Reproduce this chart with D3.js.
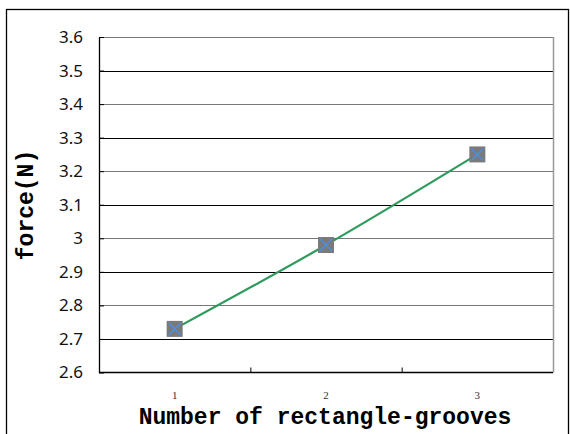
<!DOCTYPE html>
<html><head><meta charset="utf-8">
<script src="https://cdn.jsdelivr.net/npm/d3@7"></script>
<style>body{margin:0;background:#fff}</style>
</head><body><svg id="c" width="570" height="434"></svg>
<script>
const categories = ["1","2","3"];
const forceValues = [2.73, 2.98, 3.25];
const yTicks = [2.6,2.7,2.8,2.9,3.0,3.1,3.2,3.3,3.4,3.5,3.6];
const yTickLabels = ["2.6","2.7","2.8","2.9","3","3.1","3.2","3.3","3.4","3.5","3.6"];
const xTitle = "Number of rectangle-grooves";
const yTitle = "force(N)";

const svg = d3.select("#c");
const L=99, R=553, T=37, B=372.5;
svg.append("rect").attr("x",6.5).attr("y",9.5).attr("width",562).attr("height",440)
  .attr("fill","none").attr("stroke","#000").attr("stroke-width",1.3);

const x = d3.scaleBand().domain(categories).range([L,R]);
const y = d3.scaleLinear().domain([2.6,3.6]).range([B,T]);

// gridlines
svg.append("g").selectAll("line").data(yTicks.slice(1)).join("line")
  .attr("x1",L).attr("x2",R).attr("y1",d=>Math.round(y(d))+0.5).attr("y2",d=>Math.round(y(d))+0.5)
  .attr("stroke",(d,i)=> i%2===0 ? "#000" : "#777").attr("stroke-width",1);
// right border
svg.append("line").attr("x1",R+0.5).attr("x2",R+0.5).attr("y1",T).attr("y2",B).attr("stroke","#999").attr("stroke-width",1.5);

// y axis
const yAxis = d3.axisLeft(y).tickValues(yTicks).tickFormat((d,i)=>yTickLabels[i]).tickSizeInner(-5).tickSizeOuter(0).tickPadding(16);
const gy = svg.append("g").attr("transform",`translate(${L},0)`).call(yAxis);
gy.select(".domain").attr("stroke","#000").attr("stroke-width",1.3);
gy.selectAll(".tick line").attr("stroke","#000");
gy.selectAll("text").attr("font-family","'Noto Sans','DejaVu Sans',sans-serif").attr("font-size",17).attr("fill","#111");

// x axis
svg.append("line").attr("x1",L).attr("x2",R).attr("y1",B).attr("y2",B).attr("stroke","#000").attr("stroke-width",1.5);
const bounds = categories.slice(1).map(c=>x(c));
svg.append("g").selectAll("line").data(bounds).join("line")
  .attr("x1",d=>d+0.5).attr("x2",d=>d+0.5).attr("y1",B).attr("y2",B-5).attr("stroke","#000");
svg.append("g").selectAll("text").data(categories).join("text")
  .attr("x",d=>x(d)+x.bandwidth()/2).attr("y",B+26).attr("text-anchor","middle")
  .attr("font-family","'Liberation Serif',serif").attr("font-size",11).attr("fill","#333").text(d=>d);

// line
const pts = categories.map((c,i)=>[x(c)+x.bandwidth()/2, y(forceValues[i])]);
svg.append("path").attr("d", d3.line().curve(d3.curveCatmullRom)(pts))
  .attr("fill","none").attr("stroke","#2e9a5c").attr("stroke-width",2.2);

// markers
const m = svg.append("g").selectAll("g").data(pts).join("g").attr("transform",d=>`translate(${d[0]},${d[1]})`);
m.append("rect").attr("x",-8).attr("y",-8).attr("width",16).attr("height",16).attr("fill","#7a7a7a");
m.append("path").attr("d","M-6,-6L6,6M-6,6L6,-6").attr("stroke","#4a90e8").attr("stroke-width",1.4);

// titles
svg.append("text").attr("x",325).attr("y",424).attr("text-anchor","middle")
  .attr("font-family","'Liberation Mono','DejaVu Sans Mono',monospace").attr("font-weight","bold").attr("font-size",23).attr("fill","#000").text(xTitle);
svg.append("text").attr("transform","translate(33,205) rotate(-90)").attr("text-anchor","middle")
  .attr("font-family","'Liberation Mono','DejaVu Sans Mono',monospace").attr("font-weight","bold").attr("font-size",23).attr("fill","#000").text(yTitle);
</script></body></html>
